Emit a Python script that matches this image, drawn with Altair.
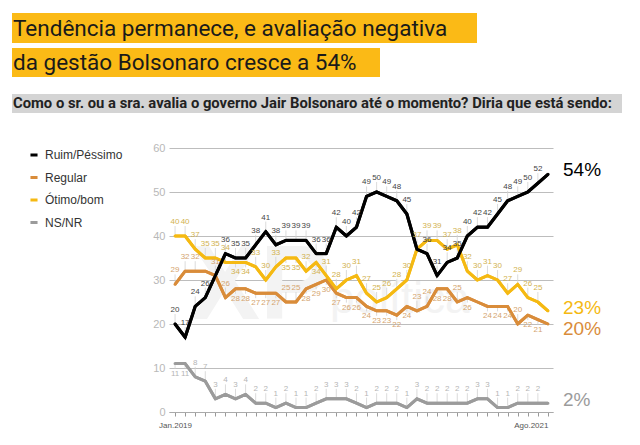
import altair as alt
import pandas as pd

# ---------------- data ----------------
series = ["Ruim/Péssimo", "Regular", "Ótimo/bom", "NS/NR"]
line_colors = ["#000000", "#D98C3A", "#F5B912", "#9B9B9B"]
label_colors = ["#444444", "#D4A46E", "#D2B250", "#B5B5B5"]
x_labels = ["Jan.2019", "Ago.2021"]

ruim = [20, 17, 24, 26, 31, 36, 35, 35, 38, 41, 38, 39, 39, 39, 36, 36, 42, 40, 42, 49,
        50, 49, 48, 45, 37, 36, 31, 34, 35, 40, 42, 42, 45, 48, 49, 50, 52, 54]
regular = [29, 32, 32, 32, 31, 26, 28, 28, 27, 27, 27, 25, 25, 28, 29, 30, 27, 26, 26, 24,
           23, 23, 22, 24, 23, 24, 28, 28, 25, 26, 25, 24, 24, 24, 20, 22, 21, 20]
otimo = [40, 40, 37, 35, 35, 34, 34, 34, 33, 30, 33, 35, 35, 32, 34, 31, 28, 30, 31, 27,
         25, 26, 28, 30, 37, 39, 39, 37, 38, 32, 30, 31, 30, 27, 29, 26, 25, 23]
nsnr = [11, 11, 8, 7, 3, 4, 3, 4, 2, 2, 1, 2, 1, 1, 2, 3, 3, 3, 2, 1,
        2, 2, 2, 1, 3, 2, 2, 2, 2, 2, 3, 3, 1, 1, 2, 2, 2, 2]

# label placement: a = above, b = below, n = no label
ruim_pos = "aaaanaaaaaaaaaaaaaaaaaaanaaaaaaaaaaaan"
regular_pos = "aaanaabbbbbaabbbbbbbbbbbaabbabnbbbabbn"
otimo_pos = "aaaaaabbaaabbabaaaaaaaaaaaaaaaaaaaaaan"
nsnr_pos = "bbaaaaaaaaaaaaaaaaaaaaaaaaaaaaaaaaaaan"

values = [ruim, regular, otimo, nsnr]
positions = [ruim_pos, regular_pos, otimo_pos, nsnr_pos]

title1 = "Tendência permanece, e avaliação negativa"
title2 = "da gestão Bolsonaro cresce a 54%"
subtitle = "Como o sr. ou a sra. avalia o governo Jair Bolsonaro até o momento? Diria que está sendo:"

rows = []
for s, vals, pos in zip(series, values, positions):
    for i, (v, p) in enumerate(zip(vals, pos)):
        rows.append({"idx": i, "series": s, "value": v, "pos": p})
df = pd.DataFrame(rows)

N = len(ruim)
xscale = alt.Scale(domain=[-0.6, N - 0.5], nice=False, zero=False)
yscale = alt.Scale(domain=[0, 60], nice=False)

label_expr = f"datum.value == 0 ? '{x_labels[0]}' : (datum.value == {N-1} ? '{x_labels[1]}' : '')"

X = alt.X("idx:Q", scale=xscale, title=None,
          axis=alt.Axis(values=list(range(N)), labelExpr=label_expr, grid=False,
                        labelFontSize=8, labelColor="#555555", labelFont="Liberation Sans",
                        tickColor="#999999", tickSize=4, domainColor="#aaaaaa",
                        labelPadding=5, labelFlush=False,
                        labelAlign={"condition": {"test": "datum.value == 0", "value": "center"},
                                    "value": "right"}))
Y = alt.Y("value:Q", scale=yscale, title=None,
          axis=alt.Axis(values=[0, 10, 20, 30, 40, 50, 60], ticks=False, domain=False,
                        grid=True, gridColor="#bdbdbd", gridWidth=1,
                        labelFontSize=11, labelColor="#b8b8b8", labelFont="Liberation Sans",
                        labelPadding=4))

base = alt.Chart(df).encode(x=X, y=Y)

one = pd.DataFrame({"k": [0]})
OX, OY = 169, 148  # plot origin on page (for decorative pixel placement)

# watermark
wm1 = alt.Chart(one).mark_text(text="XP", fontSize=105, fontWeight="bold", color="#f3f3f3",
                               font="Liberation Sans", align="center", baseline="middle").encode(
    x=alt.value(260 - OX), y=alt.value(287 - OY))
wm2 = alt.Chart(one).mark_text(text="política", fontSize=44, color="#f3f3f3",
                               font="Liberation Sans", align="left", baseline="middle").encode(
    x=alt.value(330 - OX), y=alt.value(300 - OY))

# leader lines
lead_a = base.transform_filter("datum.pos == 'a'").mark_rule(
    color="#d2d2d2", strokeWidth=0.8, y2Offset=-10).encode(y2="value:Q")
lead_b = base.transform_filter("datum.pos == 'b'").mark_rule(
    color="#d2d2d2", strokeWidth=0.8, y2Offset=5).encode(y2="value:Q")

# legend carrier line
legend_line = base.mark_line(strokeWidth=3).encode(
    color=alt.Color("series:N", scale=alt.Scale(domain=series, range=line_colors),
                    legend=alt.Legend(title=None, orient="none", legendX=28 - OX, legendY=149 - OY,
                                      symbolType="stroke", symbolStrokeWidth=3, symbolSize=50,
                                      labelFontSize=12, labelFont="Liberation Sans",
                                      labelColor="#333333", rowPadding=10.5, labelOffset=5)),
    detail="series:N")

layers = [wm1, wm2, lead_a, lead_b, legend_line]

draw_order = [3, 1, 2, 0]
for k in draw_order:
    s = series[k]
    layers.append(base.transform_filter(alt.datum.series == s).mark_line(
        color=line_colors[k], strokeWidth=3.2 if k == 0 else 3, strokeJoin="round", strokeCap="round"))

for k in draw_order:
    s = series[k]
    sub = base.transform_filter(alt.datum.series == s)
    layers.append(sub.transform_filter("datum.pos == 'a'").mark_text(
        fontSize=8, font="Liberation Sans", color=label_colors[k], dy=-14, baseline="middle"
    ).encode(text="value:Q"))
    layers.append(sub.transform_filter("datum.pos == 'b'").mark_text(
        fontSize=8, font="Liberation Sans", color=label_colors[k], dy=10, baseline="middle"
    ).encode(text="value:Q"))

# end labels
end_dy = [-4, 5, -3, -3]
for k, s in enumerate(series):
    d = pd.DataFrame({"value": [values[k][-1]], "t": [f"{values[k][-1]}%"]})
    layers.append(alt.Chart(d).mark_text(fontSize=19, font="Liberation Sans", color=line_colors[k],
                                         align="left", baseline="middle", dy=end_dy[k]).encode(
        x=alt.value(563 - OX), y=alt.Y("value:Q", scale=yscale), text="t:N"))

# title boxes
def box(x1, x2, y1, y2, color):
    return alt.Chart(one).mark_rect(color=color).encode(
        x=alt.value(x1 - OX), x2=alt.value(x2 - OX), y=alt.value(y1 - OY), y2=alt.value(y2 - OY))

def txt(t, x, y, size, weight="normal", color="#1a1a1a"):
    return alt.Chart(one).mark_text(text=t, fontSize=size, fontWeight=weight, color=color,
                                    font="Roboto", align="left", baseline="middle").encode(
        x=alt.value(x - OX), y=alt.value(y - OY))

layers += [
    box(12, 477, 13, 43, "#FBBA16"),
    box(12, 380, 48, 77, "#FBBA16"),
    box(12, 622, 94, 113, "#d4d4d4"),
    txt(title1, 13, 28.5, 22.5),
    txt(title2, 13, 63, 22.5),
    txt(subtitle, 13, 104, 14.8, "bold", "#222222"),
]

chart = alt.layer(*layers).properties(
    width=384, height=264,
    autosize=alt.AutoSizeParams(type="none"),
    padding={"left": OX - 8, "top": OY - 8, "right": 70, "bottom": 20},
).configure_view(stroke=None)

chart.save("out.html", embed_options={"renderer": "svg", "actions": False})
